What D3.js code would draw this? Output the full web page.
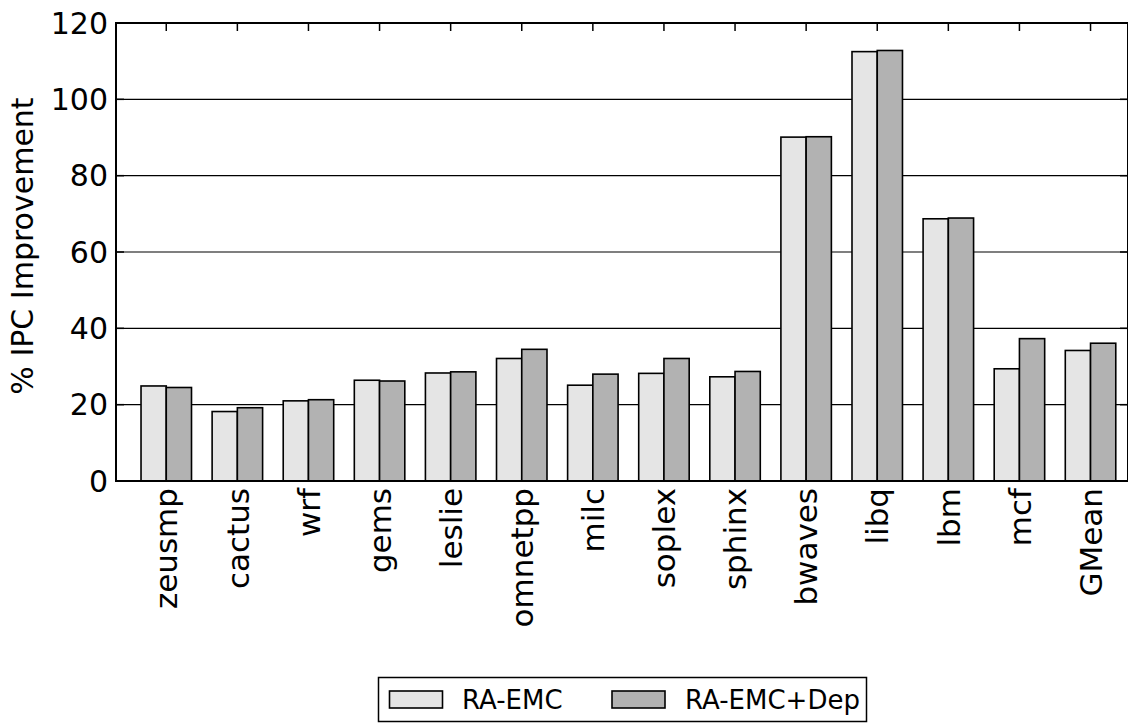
<!DOCTYPE html>
<html>
<head>
<meta charset="utf-8">
<script src="https://cdn.jsdelivr.net/npm/d3@7"></script>
<style>
  body { margin: 0; background: #fff; }
  text { font-family: "DejaVu Sans", sans-serif; fill: #000; }
</style>
</head>
<body>
<div id="chart"></div>
<script>
// benchmarks and the two series (% IPC improvement)
var categories = ["zeusmp", "cactus", "wrf", "gems", "leslie", "omnetpp", "milc",
                  "soplex", "sphinx", "bwaves", "libq", "lbm", "mcf", "GMean"];
var raEmc    = [24.9, 18.2, 21.0, 26.4, 28.3, 32.1, 25.1, 28.2, 27.3, 90.1, 112.5, 68.7, 29.4, 34.2];
var raEmcDep = [24.5, 19.2, 21.3, 26.2, 28.6, 34.5, 28.0, 32.1, 28.7, 90.2, 112.8, 68.9, 37.3, 36.1];
var seriesNames = ["RA-EMC", "RA-EMC+Dep"];
var yTicks = [0, 20, 40, 60, 80, 100, 120];

var W = 1128, H = 724;
// plot box edges (don't call these top/left - window.top is read-only)
var pL = 116, pR = 1128, pT = 23, pB = 481;
var colors = ["#e5e5e5", "#b2b2b2"];
var barW = 0.355; // in category units

var svg = d3.select("#chart").append("svg")
    .attr("width", W).attr("height", H);

// index -> pixel (group centre)
var x = d3.scaleLinear().domain([-0.707, 13.527]).range([pL, pR]);
var y = d3.scaleLinear().domain([0, 120]).range([pB, pT]);

// grid lines
svg.append("g").selectAll("line")
    .data(yTicks).enter().append("line")
    .attr("x1", pL).attr("x2", pR)
    .attr("y1", function(d) { return y(d); })
    .attr("y2", function(d) { return y(d); })
    .style("stroke", "#000").style("stroke-width", 1.2);

// bars
var series = [raEmc, raEmcDep];
series.forEach(function(vals, s) {
    svg.append("g").selectAll("rect")
        .data(vals).enter().append("rect")
        .attr("x", function(d, i) { return x(i + (s - 1) * barW); })
        .attr("y", function(d) { return y(d); })
        .attr("width", x(barW) - x(0))
        .attr("height", function(d) { return y(0) - y(d); })
        .style("fill", colors[s])
        .style("stroke", "#000")
        .style("stroke-width", 1.6);
});

// ticks inward: left / right y ticks, top x ticks
var tl = 8;
var tk = svg.append("g").style("stroke", "#000").style("stroke-width", 1.5);
yTicks.forEach(function(t) {
    tk.append("line").attr("x1", pL).attr("x2", pL + tl).attr("y1", y(t)).attr("y2", y(t));
    tk.append("line").attr("x1", pR - tl).attr("x2", pR).attr("y1", y(t)).attr("y2", y(t));
});
categories.forEach(function(c, i) {
    tk.append("line").attr("x1", x(i)).attr("x2", x(i)).attr("y1", pT).attr("y2", pT + tl);
});

// frame
svg.append("rect")
    .attr("x", pL).attr("y", pT)
    .attr("width", pR - pL).attr("height", pB - pT)
    .style("fill", "none").style("stroke", "#000").style("stroke-width", 2);

// y tick labels
svg.append("g").selectAll("text")
    .data(yTicks).enter().append("text")
    .attr("x", pL - 8)
    .attr("y", function(d) { return y(d); })
    .attr("dy", "0.36em")
    .attr("text-anchor", "end")
    .style("font-size", "30px")
    .text(function(d) { return d; });

// x labels, rotated
svg.append("g").selectAll("text")
    .data(categories).enter().append("text")
    .attr("transform", function(d, i) { return "translate(" + x(i) + "," + (pB + 7) + ") rotate(-90)"; })
    .attr("dy", "0.36em")
    .attr("text-anchor", "end")
    .style("font-size", "31px")
    .text(function(d) { return d; });

// y axis title
svg.append("text")
    .attr("transform", "translate(22," + ((pT + pB) / 2 - 6) + ") rotate(-90)")
    .attr("dy", "0.36em")
    .attr("text-anchor", "middle")
    .style("font-size", "30px")
    .text("% IPC Improvement");

// legend
var lg = svg.append("g");
lg.append("rect").attr("x", 378.5).attr("y", 677.5).attr("width", 488).attr("height", 44)
    .style("fill", "#fff").style("stroke", "#000").style("stroke-width", 1.5);
var legX = [389.5, 612];
var legTx = [462, 685];
seriesNames.forEach(function(n, s) {
    lg.append("rect").attr("x", legX[s]).attr("y", 691).attr("width", 53).attr("height", 17)
        .style("fill", colors[s]).style("stroke", "#000").style("stroke-width", 1.6);
    lg.append("text").attr("x", legTx[s]).attr("y", 699.5).attr("dy", "0.36em")
        .style("font-size", "26px").text(n);
});
</script>
</body>
</html>
